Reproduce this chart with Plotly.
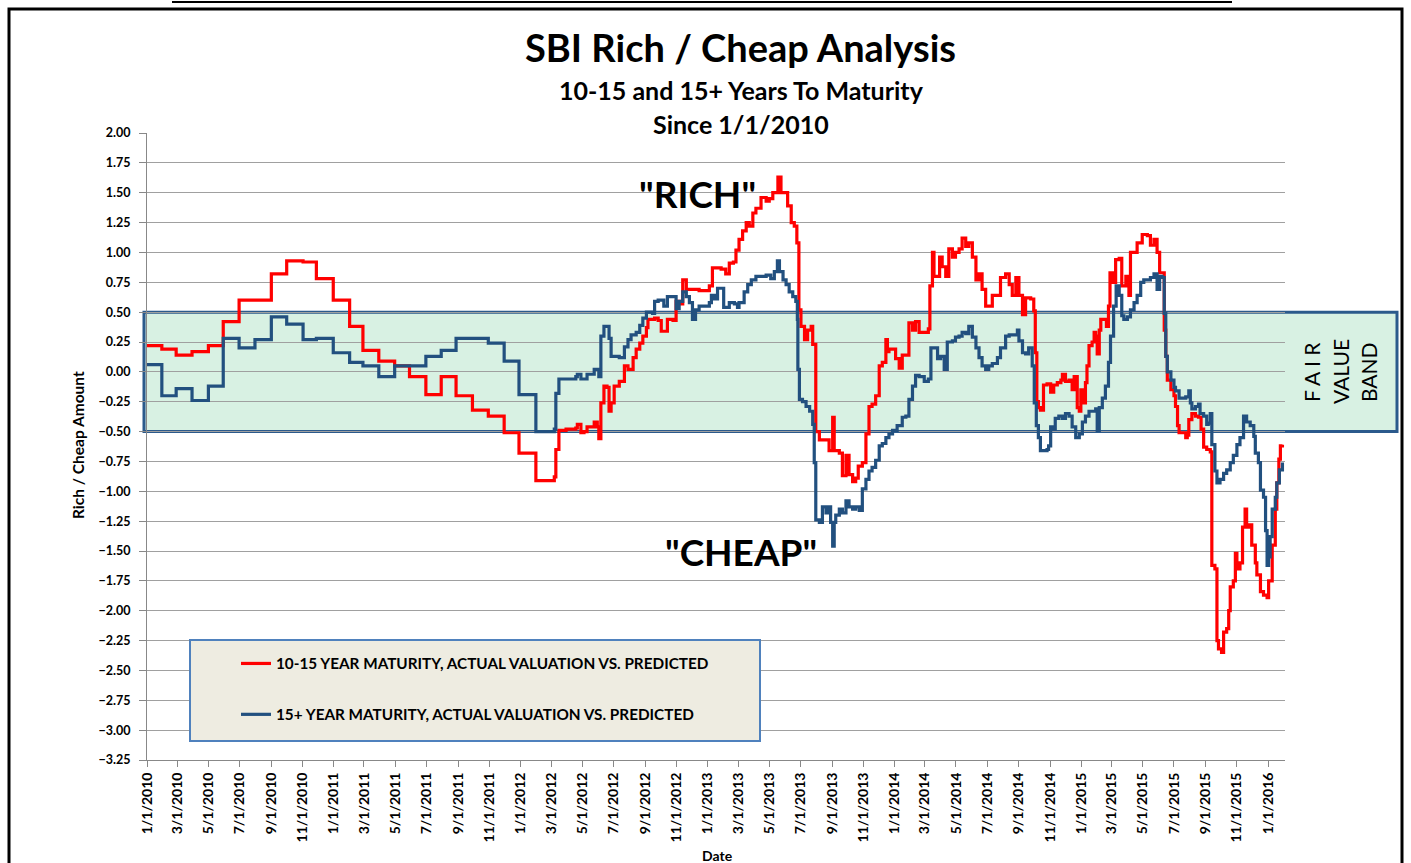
import plotly.graph_objects as go

# ---------------- data ----------------
red_dates = [
    "2010-01-01", "2010-01-30", "2010-02-27", "2010-03-30", "2010-05-01", "2010-05-30", "2010-06-30",
    "2010-09-01", "2010-10-01", "2010-11-02", "2010-11-28", "2010-12-31", "2011-02-01", "2011-02-27",
    "2011-03-30", "2011-04-30", "2011-05-29", "2011-06-30", "2011-07-30", "2011-08-28", "2011-09-29",
    "2011-10-30", "2011-11-30", "2011-12-29", "2012-01-31", "2012-03-07", "2012-03-10", "2012-03-16",
    "2012-03-30", "2012-04-18", "2012-04-21", "2012-04-28", "2012-05-04", "2012-05-10", "2012-05-24",
    "2012-05-30", "2012-06-02", "2012-06-06", "2012-06-12", "2012-06-18", "2012-06-22", "2012-06-26",
    "2012-07-02", "2012-07-12", "2012-07-22", "2012-07-29", "2012-08-08", "2012-08-14", "2012-08-21",
    "2012-08-27", "2012-09-03", "2012-09-06", "2012-09-19", "2012-09-26", "2012-10-02", "2012-10-11",
    "2012-10-14", "2012-10-25", "2012-10-31", "2012-11-06", "2012-11-13", "2012-11-20", "2012-12-15",
    "2013-01-04", "2013-01-10", "2013-01-27", "2013-02-05", "2013-02-12", "2013-02-20", "2013-02-25",
    "2013-03-03", "2013-03-10", "2013-03-17", "2013-03-23", "2013-03-30", "2013-04-05", "2013-04-15",
    "2013-04-25", "2013-05-01", "2013-05-08", "2013-05-18", "2013-05-24", "2013-06-06", "2013-06-13",
    "2013-06-19", "2013-06-24", "2013-06-28", "2013-07-02", "2013-07-09", "2013-07-15", "2013-07-22",
    "2013-07-25", "2013-07-31", "2013-08-07", "2013-08-26", "2013-09-02", "2013-09-05", "2013-09-15",
    "2013-09-21", "2013-09-28", "2013-10-04", "2013-10-11", "2013-10-17", "2013-10-22", "2013-10-30",
    "2013-11-06", "2013-11-12", "2013-11-18", "2013-11-25", "2013-12-02", "2013-12-08", "2013-12-15",
    "2013-12-18", "2013-12-21", "2014-01-03", "2014-01-10", "2014-01-16", "2014-01-29", "2014-02-05",
    "2014-02-11", "2014-02-18", "2014-03-08", "2014-03-11", "2014-03-16", "2014-03-19", "2014-03-30",
    "2014-04-04", "2014-04-11", "2014-04-17", "2014-04-24", "2014-04-30", "2014-05-07", "2014-05-13",
    "2014-05-20", "2014-05-26", "2014-06-02", "2014-06-09", "2014-06-15", "2014-06-21", "2014-06-28",
    "2014-07-11", "2014-07-27", "2014-08-06", "2014-08-13", "2014-08-19", "2014-08-26", "2014-09-01",
    "2014-09-08", "2014-09-14", "2014-09-24", "2014-09-30", "2014-10-03", "2014-10-06", "2014-10-09",
    "2014-10-13", "2014-10-19", "2014-10-26", "2014-11-02", "2014-11-08", "2014-11-15", "2014-11-22",
    "2014-11-25", "2014-12-01", "2014-12-08", "2014-12-14", "2014-12-18", "2014-12-24", "2014-12-28",
    "2014-12-31", "2015-01-06", "2015-01-09", "2015-01-12", "2015-01-16", "2015-01-22", "2015-01-26",
    "2015-01-29", "2015-02-01", "2015-02-05", "2015-02-08", "2015-02-19", "2015-02-23", "2015-02-26",
    "2015-03-03", "2015-03-09", "2015-03-16", "2015-03-21", "2015-03-29", "2015-04-04", "2015-04-07",
    "2015-04-20", "2015-04-30", "2015-05-10", "2015-05-16", "2015-05-23", "2015-05-29", "2015-06-03",
    "2015-06-10", "2015-06-12", "2015-06-15", "2015-06-18", "2015-06-25", "2015-07-01", "2015-07-04",
    "2015-07-08", "2015-07-11", "2015-07-24", "2015-07-27", "2015-07-30", "2015-08-05", "2015-08-12",
    "2015-08-18", "2015-08-23", "2015-08-28", "2015-09-03", "2015-09-10", "2015-09-13", "2015-09-19",
    "2015-09-23", "2015-09-26", "2015-10-02", "2015-10-06", "2015-10-12", "2015-10-16", "2015-10-19",
    "2015-10-25", "2015-10-29", "2015-11-01", "2015-11-07", "2015-11-12", "2015-11-17", "2015-11-20",
    "2015-11-24", "2015-11-30", "2015-12-07", "2015-12-10", "2015-12-17", "2015-12-23", "2015-12-30",
    "2016-01-02", "2016-01-09", "2016-01-15", "2016-01-18", "2016-01-22", "2016-01-25", "2016-01-29",
]
red_values = [
    0.22, 0.19, 0.14, 0.17, 0.22, 0.42, 0.60,
    0.82, 0.93, 0.92, 0.78, 0.60, 0.38, 0.18,
    0.09, 0.05, -0.04, -0.19, -0.04, -0.20, -0.32,
    -0.37, -0.51, -0.68, -0.91, -0.88, -0.65, -0.49,
    -0.48, -0.47, -0.44, -0.51, -0.50, -0.46, -0.42,
    -0.46, -0.56, -0.26, -0.12, -0.13, -0.33, -0.26,
    -0.12, -0.08, 0.05, 0.02, 0.12, 0.19, 0.24,
    0.30, 0.37, 0.44, 0.45, 0.43, 0.34, 0.34,
    0.44, 0.43, 0.59, 0.57, 0.77, 0.69, 0.68,
    0.72, 0.87, 0.86, 0.82, 0.91, 0.92, 1.02,
    1.11, 1.18, 1.25, 1.22, 1.33, 1.37, 1.46,
    1.43, 1.45, 1.50, 1.63, 1.50, 1.39, 1.25,
    1.22, 1.08, 0.52, 0.38, 0.27, 0.35, 0.38,
    0.23, -0.50, -0.57, -0.66, -0.38, -0.66, -0.68,
    -0.87, -0.70, -0.86, -0.92, -0.89, -0.79, -0.76,
    -0.52, -0.29, -0.27, -0.20, 0.05, 0.08, 0.27,
    0.17, 0.19, 0.11, 0.03, 0.14, 0.41, 0.35,
    0.42, 0.33, 0.36, 0.72, 1.00, 0.80, 0.96,
    0.88, 0.80, 1.03, 0.96, 1.00, 1.03, 1.12,
    1.05, 1.08, 0.96, 0.77, 0.82, 0.69, 0.55,
    0.64, 0.79, 0.82, 0.73, 0.64, 0.79, 0.64,
    0.48, 0.62, 0.61, 0.51, 0.16, -0.25, -0.30,
    -0.32, -0.11, -0.10, -0.17, -0.11, -0.09, -0.07,
    -0.02, -0.08, -0.07, -0.15, -0.04, -0.30, -0.33,
    -0.15, -0.26, -0.09, 0.05, 0.22, 0.25, 0.33,
    0.30, 0.15, 0.35, 0.44, 0.38, 0.55, 0.83,
    0.75, 0.94, 0.95, 0.72, 0.80, 0.64, 1.00,
    1.08, 1.15, 1.14, 1.06, 1.11, 1.00, 0.83,
    0.83, 0.35, 0.13, -0.07, -0.15, -0.20, -0.29,
    -0.45, -0.51, -0.55, -0.53, -0.40, -0.35, -0.37,
    -0.38, -0.48, -0.63, -0.65, -0.67, -1.62, -1.65,
    -2.25, -2.32, -2.35, -2.18, -2.15, -2.00, -1.80,
    -1.75, -1.52, -1.65, -1.60, -1.30, -1.15, -1.30,
    -1.28, -1.45, -1.60, -1.70, -1.84, -1.87, -1.89,
    -1.75, -1.45, -1.15, -0.93, -0.73, -0.62, -0.61,
]

blue_dates = [
    "2010-01-01", "2010-01-30", "2010-02-27", "2010-03-30", "2010-05-01", "2010-05-30", "2010-06-30",
    "2010-07-31", "2010-09-01", "2010-10-01", "2010-11-02", "2010-11-28", "2010-12-31", "2011-02-01",
    "2011-02-27", "2011-03-30", "2011-04-30", "2011-06-30", "2011-07-30", "2011-08-28", "2011-10-30",
    "2011-11-30", "2011-12-29", "2012-01-31", "2012-03-07", "2012-03-10", "2012-03-16", "2012-04-18",
    "2012-04-21", "2012-04-28", "2012-05-10", "2012-05-24", "2012-06-02", "2012-06-06", "2012-06-12",
    "2012-06-22", "2012-06-26", "2012-07-12", "2012-07-22", "2012-07-29", "2012-08-04", "2012-08-14",
    "2012-08-21", "2012-08-27", "2012-09-03", "2012-09-15", "2012-09-19", "2012-09-26", "2012-10-07",
    "2012-10-14", "2012-10-31", "2012-11-06", "2012-11-13", "2012-11-20", "2012-11-26", "2012-12-02",
    "2012-12-08", "2012-12-15", "2013-01-04", "2013-01-08", "2013-01-14", "2013-01-20", "2013-02-01",
    "2013-02-12", "2013-02-22", "2013-02-28", "2013-03-03", "2013-03-13", "2013-03-20", "2013-03-27",
    "2013-04-05", "2013-04-25", "2013-05-04", "2013-05-11", "2013-05-17", "2013-05-21", "2013-05-28",
    "2013-06-03", "2013-06-09", "2013-06-16", "2013-06-22", "2013-06-25", "2013-06-26", "2013-06-29",
    "2013-07-05", "2013-07-12", "2013-07-19", "2013-07-25", "2013-07-28", "2013-07-31", "2013-08-07",
    "2013-08-13", "2013-08-20", "2013-08-26", "2013-08-29", "2013-09-02", "2013-09-05", "2013-09-08",
    "2013-09-15", "2013-09-21", "2013-09-28", "2013-10-04", "2013-10-11", "2013-10-17", "2013-10-24",
    "2013-10-30", "2013-11-06", "2013-11-12", "2013-11-18", "2013-11-25", "2013-12-02", "2013-12-08",
    "2013-12-15", "2013-12-21", "2013-12-28", "2014-01-06", "2014-01-16", "2014-01-23", "2014-01-29",
    "2014-02-05", "2014-02-11", "2014-02-18", "2014-02-28", "2014-03-08", "2014-03-13", "2014-03-26",
    "2014-04-01", "2014-04-08", "2014-04-14", "2014-04-24", "2014-04-30", "2014-05-07", "2014-05-13",
    "2014-05-20", "2014-05-26", "2014-06-02", "2014-06-09", "2014-06-15", "2014-06-21", "2014-06-28",
    "2014-07-04", "2014-07-11", "2014-07-21", "2014-07-27", "2014-08-06", "2014-08-13", "2014-08-29",
    "2014-09-01", "2014-09-08", "2014-09-14", "2014-09-20", "2014-09-27", "2014-10-01", "2014-10-05",
    "2014-10-09", "2014-10-13", "2014-10-26", "2014-10-29", "2014-11-02", "2014-11-08", "2014-11-11",
    "2014-11-18", "2014-11-25", "2014-12-01", "2014-12-08", "2014-12-14", "2014-12-21", "2014-12-28",
    "2015-01-03", "2015-01-09", "2015-01-16", "2015-01-29", "2015-02-01", "2015-02-05", "2015-02-11",
    "2015-02-17", "2015-02-23", "2015-02-27", "2015-03-05", "2015-03-10", "2015-03-16", "2015-03-21",
    "2015-03-25", "2015-04-01", "2015-04-07", "2015-04-14", "2015-04-20", "2015-04-27", "2015-05-03",
    "2015-05-16", "2015-05-23", "2015-05-29", "2015-06-03", "2015-06-08", "2015-06-12", "2015-06-15",
    "2015-06-18", "2015-06-25", "2015-07-01", "2015-07-04", "2015-07-11", "2015-07-24", "2015-07-30",
    "2015-08-02", "2015-08-05", "2015-08-12", "2015-08-18", "2015-08-21", "2015-08-28", "2015-09-03",
    "2015-09-06", "2015-09-10", "2015-09-13", "2015-09-19", "2015-09-23", "2015-09-29", "2015-10-06",
    "2015-10-12", "2015-10-19", "2015-10-25", "2015-11-01", "2015-11-07", "2015-11-14", "2015-11-20",
    "2015-11-27", "2015-12-04", "2015-12-07", "2015-12-13", "2015-12-17", "2015-12-23", "2015-12-27",
    "2015-12-30", "2016-01-02", "2016-01-05", "2016-01-09", "2016-01-15", "2016-01-18", "2016-01-23",
    "2016-01-29",
]
blue_values = [
    0.06, -0.20, -0.14, -0.24, -0.12, 0.28, 0.20,
    0.27, 0.46, 0.40, 0.27, 0.28, 0.16, 0.08,
    0.05, -0.04, 0.05, 0.13, 0.18, 0.28, 0.24,
    0.09, -0.19, -0.50, -0.48, -0.18, -0.06, -0.04,
    -0.02, -0.06, -0.02, 0.02, -0.04, 0.30, 0.38,
    0.28, 0.13, 0.12, 0.21, 0.27, 0.31, 0.33,
    0.39, 0.45, 0.50, 0.49, 0.59, 0.60, 0.55,
    0.63, 0.53, 0.59, 0.67, 0.63, 0.58, 0.44,
    0.52, 0.55, 0.58, 0.64, 0.61, 0.70, 0.54,
    0.58, 0.57, 0.54, 0.58, 0.67, 0.73, 0.77,
    0.80, 0.81, 0.78, 0.84, 0.93, 0.84, 0.77,
    0.73, 0.67, 0.63, 0.59, 0.44, 0.02, -0.23,
    -0.25, -0.29, -0.33, -0.44, -0.76, -1.24, -1.26,
    -1.13, -1.18, -1.13, -1.26, -1.46, -1.26, -1.20,
    -1.15, -1.18, -1.08, -1.13, -1.15, -1.13, -1.16,
    -0.98, -0.90, -0.83, -0.80, -0.74, -0.62, -0.60,
    -0.55, -0.52, -0.49, -0.45, -0.38, -0.37, -0.23,
    -0.12, -0.03, -0.04, -0.08, -0.06, 0.20, 0.11,
    0.13, 0.02, 0.25, 0.26, 0.29, 0.30, 0.33,
    0.32, 0.38, 0.29, 0.20, 0.12, 0.05, 0.02,
    0.05, 0.07, 0.12, 0.20, 0.30, 0.31, 0.35,
    0.26, 0.16, 0.15, 0.20, 0.05, -0.26, -0.45,
    -0.55, -0.66, -0.65, -0.62, -0.46, -0.48, -0.39,
    -0.37, -0.39, -0.35, -0.37, -0.46, -0.55, -0.52,
    -0.42, -0.37, -0.33, -0.31, -0.49, -0.30, -0.22,
    -0.12, 0.08, 0.30, 0.55, 0.72, 0.64, 0.47,
    0.44, 0.46, 0.52, 0.58, 0.64, 0.75, 0.77,
    0.79, 0.82, 0.69, 0.80, 0.79, 0.49, 0.13,
    0.00, -0.07, -0.13, -0.16, -0.22, -0.21, -0.16,
    -0.26, -0.31, -0.29, -0.27, -0.35, -0.37, -0.44,
    -0.43, -0.35, -0.61, -0.83, -0.93, -0.90, -0.85,
    -0.82, -0.76, -0.70, -0.61, -0.55, -0.37, -0.42,
    -0.45, -0.54, -0.68, -0.76, -0.99, -1.05, -1.33,
    -1.62, -1.55, -1.38, -1.15, -1.05, -0.93, -0.82,
    -0.76,
]

series_names = [
    "10-15 YEAR MATURITY, ACTUAL VALUATION VS. PREDICTED",
    "15+ YEAR MATURITY, ACTUAL VALUATION VS. PREDICTED",
]
y_min, y_max = -3.25, 2.00
band_low, band_high = -0.50, 0.50
x_start, x_end = "2010-01-01", "2016-02-03"

# ---------------- layout geometry (pixels) ----------------
W, H = 1411, 863
L, R, T, B = 147, 126, 133, 103
PW, PH = W - L - R, H - T - B


def px(xp):
    return (xp - L) / PW


def py(yp):
    return (H - B - yp) / PH


def vy(v):
    return (v - y_min) / (y_max - y_min)


FONT = "Lato, 'Open Sans', sans-serif"
RED = "#ff0000"
BLUE = "#22507f"

fig = go.Figure()
fig.add_trace(go.Scatter(
    x=red_dates, y=red_values, mode="lines", line=dict(color=RED, width=3.2, shape="hv"),
    name="<b>" + series_names[0] + "</b>", legendgroup="a"))
fig.add_trace(go.Scatter(
    x=blue_dates, y=blue_values, mode="lines", line=dict(color=BLUE, width=3.2, shape="hv"),
    name="<b>" + series_names[1] + "</b>", legendgroup="b"))

shapes = [
    # fair value band
    dict(type="rect", xref="paper", yref="paper", x0=px(144), x1=px(1397), y0=vy(band_low), y1=vy(band_high),
         fillcolor="#d8f1e3", line=dict(color="#2b5a8c", width=3), layer="below"),
    # legend box
    dict(type="rect", xref="paper", yref="paper", x0=px(190), x1=px(760), y0=py(741), y1=py(640),
         fillcolor="#eeece1", line=dict(color="#4f81bd", width=2), layer="above"),
    # outer frame
    dict(type="rect", xref="paper", yref="paper", x0=px(9), x1=px(1402), y0=py(880), y1=py(9),
         line=dict(color="black", width=3), fillcolor="rgba(0,0,0,0)", layer="above"),
    dict(type="line", xref="paper", yref="paper", x0=px(172), x1=px(1232), y0=py(2), y1=py(2),
         line=dict(color="black", width=2), layer="above"),
]

annotations = [
    dict(text="<b>SBI Rich / Cheap Analysis</b>", x=px(740), y=py(47), font=dict(size=38, color="black")),
    dict(text="<b>10-15 and 15+ Years To Maturity</b>", x=px(741), y=py(90), font=dict(size=25, color="black")),
    dict(text="<b>Since 1/1/2010</b>", x=px(741), y=py(124), font=dict(size=25, color="black")),
    dict(text="<b>\"RICH\"</b>", x=px(697), y=py(193), font=dict(size=37, color="black")),
    dict(text="<b>\"CHEAP\"</b>", x=px(741), y=py(551), font=dict(size=37, color="black")),
    dict(text="F A I R", x=px(1311), y=py(372), textangle=-90, font=dict(size=21, color="black")),
    dict(text="VALUE", x=px(1340), y=py(372), textangle=-90, font=dict(size=21, color="black")),
    dict(text="BAND", x=px(1368), y=py(372), textangle=-90, font=dict(size=21, color="black")),
    dict(text="<b>Date</b>", x=px(717), y=py(855), font=dict(size=14, color="black")),
    dict(text="<b>Rich / Cheap Amount</b>", x=px(78), y=py(445), textangle=-90,
         font=dict(size=15.5, color="black")),
]
for a in annotations:
    a.update(xref="paper", yref="paper", showarrow=False, xanchor="center", yanchor="middle")

fig.update_layout(
    width=W, height=H,
    margin=dict(l=L, r=R, t=T, b=B, pad=0),
    paper_bgcolor="white",
    plot_bgcolor="rgba(0,0,0,0)",
    font=dict(family=FONT, color="black"),
    shapes=shapes,
    annotations=annotations,
    showlegend=True,
    legend=dict(x=px(236), y=py(647), xanchor="left", yanchor="top", bgcolor="rgba(0,0,0,0)",
                borderwidth=0, font=dict(size=15.3, family=FONT, color="black"),
                tracegroupgap=28, itemwidth=30),
    xaxis=dict(
        type="date", range=[x_start, x_end], tick0="2010-01-01", dtick="M2",
        tickformat="%-m/%-d/%Y", tickangle=-90, ticks="outside", ticklen=6, tickcolor="#888888",
        tickfont=dict(size=14, family=FONT, color="black", weight="bold"),
        showgrid=False, showline=True, linecolor="#888888", linewidth=1, zeroline=False,
    ),
    yaxis=dict(
        range=[y_min, y_max], dtick=0.25, tick0=0, tickformat=".2f",
        ticks="outside", ticklen=7, tickcolor="#888888", ticklabelstandoff=6,
        tickfont=dict(size=12.5, family=FONT, color="black", weight="bold"),
        showgrid=True, gridcolor="#a0a0a0", gridwidth=1,
        showline=True, linecolor="#888888", linewidth=1, zeroline=False,
    ),
)

fig.write_html("out.html", post_script="document.body.style.margin='0';",
               config={"displayModeBar": False})
